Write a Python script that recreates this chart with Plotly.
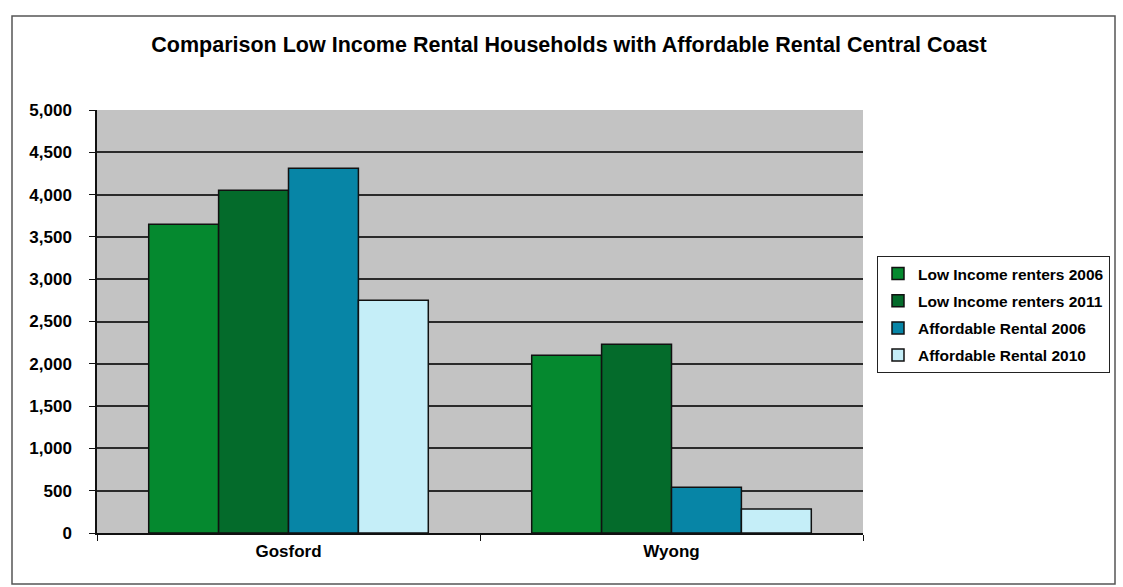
import plotly.graph_objects as go

categories = ["Gosford", "Wyong"]
series_names = ["Low Income renters 2006", "Low Income renters 2011",
                "Affordable Rental 2006", "Affordable Rental 2010"]
low_income_2006 = [3650, 2100]
low_income_2011 = [4050, 2230]
affordable_2006 = [4310, 540]
affordable_2010 = [2750, 285]
y_ticks = [0, 500, 1000, 1500, 2000, 2500, 3000, 3500, 4000, 4500, 5000]

values = [low_income_2006, low_income_2011, affordable_2006, affordable_2010]
colors = ["#05892f", "#046b2b", "#0785a6", "#c5eef8"]

W, H = 1123, 587
L, R, T, B = 97, 863, 110, 533
FAM = "Liberation Sans, Arial, sans-serif"

fig = go.Figure()
for name, vals, col in zip(series_names, values, colors):
    fig.add_trace(go.Bar(
        x=categories, y=vals, name=name, legendgroup=name,
        marker=dict(color=col, line=dict(color="#111111", width=1.5)),
    ))

def px_x(p):
    return (p - L) / (R - L)

def px_y(p):
    return (B - p) / (B - T)

fig.update_layout(
    width=W, height=H,
    margin=dict(l=L, r=W - R, t=T, b=H - B, autoexpand=False),
    paper_bgcolor="white",
    plot_bgcolor="#c3c3c3",
    barmode="group", bargap=0.27, bargroupgap=0,
    font=dict(family=FAM, color="black"),
    title=dict(
        text="Comparison Low Income Rental Households with Affordable Rental Central Coast",
        x=px_x(569), xref="paper", xanchor="center",
        y=1 - 44 / H, yanchor="middle",
        font=dict(size=21.5, family=FAM, color="black", weight="bold"),
    ),
    legend=dict(
        x=px_x(877), y=px_y(256), xanchor="left", yanchor="top",
        bordercolor="#222222", borderwidth=1, bgcolor="white",
        font=dict(size=15.5, family=FAM, color="black", weight="bold"),
        itemwidth=30, tracegroupgap=4, traceorder="grouped",
    ),
    showlegend=True,
    xaxis=dict(
        showline=True, linecolor="#111111", linewidth=1.5,
        ticks="outside", tickson="boundaries", ticklen=6, tickcolor="#111111",
        tickfont=dict(size=17, weight="bold"),
        ticklabelstandoff=2,
    ),
    yaxis=dict(
        range=[0, 5000], tickvals=y_ticks, tickformat=",",
        showgrid=True, gridcolor="#2a2a2a", gridwidth=1.5,
        showline=True, linecolor="#111111", linewidth=1.5,
        ticks="outside", ticklen=6, tickcolor="#111111",
        tickfont=dict(size=17, weight="bold"),
        ticklabelstandoff=14,
        zeroline=False,
    ),
)

# Outer chart border
fig.add_shape(type="rect", xref="paper", yref="paper",
              x0=px_x(12), x1=px_x(1115), y0=px_y(584), y1=px_y(16),
              line=dict(color="#555555", width=1.5), fillcolor="rgba(0,0,0,0)",
              layer="below")

fig.write_html("out.html", config={"displayModeBar": False},
               post_script="document.body.style.margin='0px';document.body.style.overflow='hidden';")
